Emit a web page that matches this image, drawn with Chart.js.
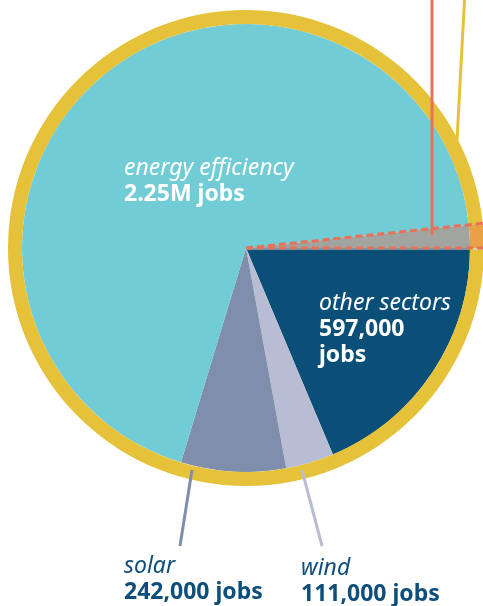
<!DOCTYPE html>
<html>
<head>
<meta charset="utf-8">
<script src="https://cdn.jsdelivr.net/npm/chart.js@4.4.1/dist/chart.umd.min.js"></script>
<style>
  html, body { margin: 0; padding: 0; background: #fff; overflow: hidden; }
  #wrap { position: relative; width: 483px; height: 606px; overflow: hidden; }
  #pie { position: absolute; left: 0; top: 0; }
  .lbl { position: absolute; font-family: "Noto Sans", "Open Sans", sans-serif; font-size: 23px; line-height: 26px; white-space: nowrap; }
  .lbl i { font-style: italic; font-weight: 400; display: block; }
  .lbl b { font-weight: 700; display: block; }
  .white { color: #ffffff; }
  .blue { color: #0d4f7a; }
</style>
</head>
<body>
<div id="wrap">
  <canvas id="pie" width="484" height="606"></canvas>
  <div class="lbl white" style="left:124px; top:153px;"><i id="n0"></i><b id="v0"></b></div>
  <div class="lbl white" style="left:319px; top:288px;"><i id="n1"></i><b id="v1"></b></div>
  <div class="lbl blue" style="left:124px; top:551px;"><i id="n2"></i><b id="v2"></b></div>
  <div class="lbl blue" style="left:301px; top:553px;"><i id="n3"></i><b id="v3"></b></div>
</div>
<script>
// slices, clockwise from 3 o'clock
const sliceLabels = ['other sectors', 'wind', 'solar', 'energy efficiency', 'energy efficiency (highlighted part)'];
const sliceJobs = [597000, 111000, 242000, 2197000, 53000];
const sliceColors = ['#0a4f78', '#b8bdd4', '#7f8fab', '#72ccd6', '#a2a4a0'];

// outer ring: yellow all round, orange over the highlighted slice
const ringJobs = [3147000, 53000];
const ringColors = ['#e6c23a', '#e9a046'];

// text labels
const labelNames = ['energy efficiency', 'other sectors', 'solar', 'wind'];
const labelJobs = ['2.25M jobs', '597,000<br>jobs', '242,000 jobs', '111,000 jobs'];

labelNames.forEach(function(n, i) {
    document.getElementById('n' + i).textContent = n;
    document.getElementById('v' + i).innerHTML = labelJobs[i];
});

// dashed edges of the highlighted slice + callout lines
const extrasPlugin = {
    id: 'extras',
    afterDraw: function(chart) {
        const ctx = chart.ctx;
        const ring = chart.getDatasetMeta(0).data[0];
        const hl = chart.getDatasetMeta(1).data[4];
        const R = ring.outerRadius;

        ctx.save();
        // thin light line under the lower edge
        ctx.strokeStyle = '#cfe3ea';
        ctx.lineWidth = 1;
        ctx.beginPath();
        ctx.moveTo(hl.x, hl.y + 1);
        ctx.lineTo(hl.x + R * Math.cos(hl.endAngle), hl.y + 1 + R * Math.sin(hl.endAngle));
        ctx.stroke();

        ctx.strokeStyle = '#e8715a';
        ctx.lineWidth = 3;
        ctx.setLineDash([7, 4]);
        [hl.startAngle, hl.endAngle].forEach(function(a) {
            ctx.beginPath();
            ctx.moveTo(hl.x, hl.y);
            ctx.lineTo(hl.x + R * Math.cos(a), hl.y + R * Math.sin(a));
            ctx.stroke();
        });
        ctx.setLineDash([]);

        // callouts
        ctx.lineWidth = 3;
        ctx.strokeStyle = '#e8715a';
        ctx.beginPath(); ctx.moveTo(432, 0); ctx.lineTo(432, 235); ctx.stroke();
        ctx.strokeStyle = '#e6c23a';
        ctx.beginPath(); ctx.moveTo(464.5, 0); ctx.lineTo(457, 140); ctx.stroke();
        ctx.strokeStyle = '#7f8fab';
        ctx.beginPath(); ctx.moveTo(192, 470); ctx.lineTo(180, 546); ctx.stroke();
        ctx.strokeStyle = '#b8bdd4';
        ctx.beginPath(); ctx.moveTo(302, 470); ctx.lineTo(322, 546); ctx.stroke();
        ctx.restore();
    }
};

window.onload = function() {
    const ctx = document.getElementById('pie').getContext('2d');
    new Chart(ctx, {
        type: 'doughnut',
        data: {
            labels: sliceLabels,
            datasets: [{
                data: ringJobs,
                backgroundColor: ringColors,
                weight: 14
            }, {
                data: sliceJobs,
                backgroundColor: sliceColors,
                weight: 224
            }]
        },
        options: {
            responsive: false,
            animation: false,
            rotation: 90,
            cutout: 0,
            borderWidth: 0,
            hoverOffset: 0,
            offset: 0,
            layout: { padding: { left: 8, top: 10, right: 0, bottom: 120 } },
            plugins: {
                legend: { display: false },
                tooltip: { enabled: false }
            }
        },
        plugins: [extrasPlugin]
    });
};
</script>
</body>
</html>
